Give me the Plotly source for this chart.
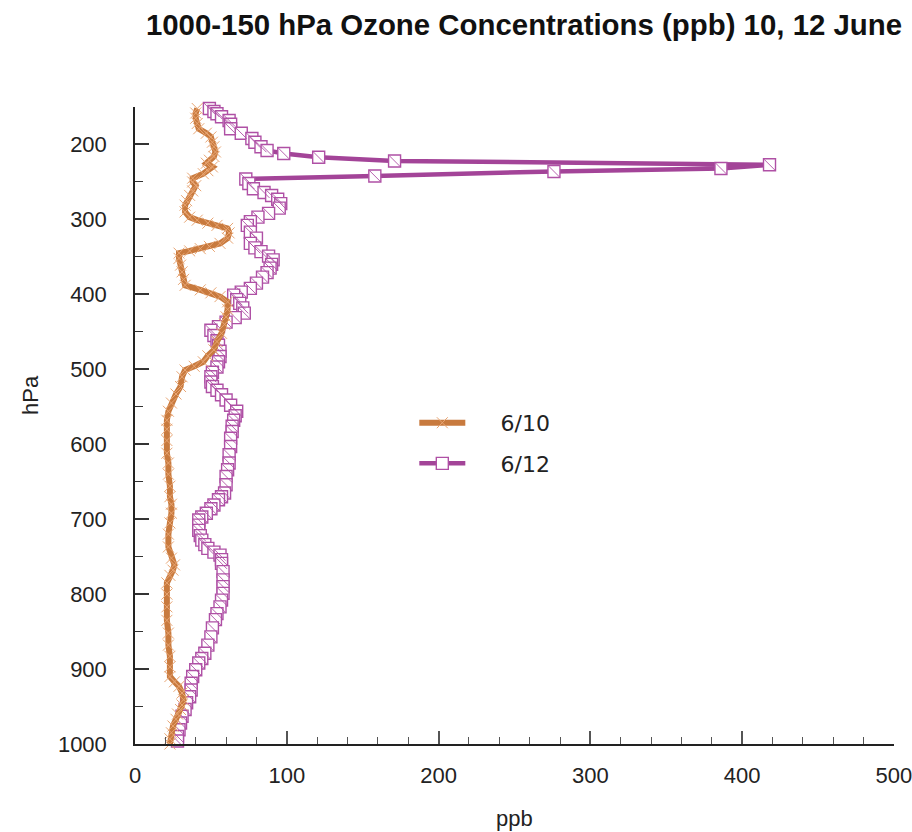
import plotly.graph_objects as go

# ---- data ----
p_0610 = [152, 158, 165, 172, 179, 185, 190, 197, 203, 210, 216, 221, 225, 230, 235, 239,
          245, 250, 255, 262, 268, 275, 281, 290, 297, 301, 305, 308, 312, 318, 325, 332,
          336, 339, 342, 345, 352, 361, 370, 380, 388, 394, 398, 403, 410, 420, 430, 440,
          452, 463, 474, 482, 490, 496, 501, 510, 523, 533, 545, 556, 568, 580, 595, 612,
          625, 640, 656, 670, 680, 692, 705, 720, 737, 752, 761, 768, 775, 785, 800, 817,
          835, 852, 868, 883, 897, 910, 917, 923, 932, 941, 948, 954, 960, 967, 976, 985,
          993, 1000]
o3_0610 = [41, 40, 40, 41, 42, 47, 50, 51, 52, 53, 52, 49, 47, 51, 48, 45,
           38, 38, 40, 38, 36, 34, 33, 33, 36, 41, 48, 54, 61, 62, 61, 56,
           49, 43, 36, 29, 29, 30, 31, 32, 33, 43, 50, 56, 61, 61, 60, 59,
           57, 54, 52, 48, 45, 39, 33, 31, 30, 27, 24, 22, 21, 21, 21, 21,
           22, 22, 23, 23, 24, 24, 23, 22, 22, 24, 26, 25, 23, 21, 21, 21,
           21, 22, 22, 23, 23, 23, 26, 29, 31, 32, 31, 30, 28, 27, 25, 24,
           23, 23]

p_0612 = [152, 156, 159, 163, 168, 173, 179, 185, 192, 197, 203, 208, 212, 217, 222, 227,
          232, 236, 242, 246, 252, 259, 264, 268, 273, 279, 285, 292, 297, 303, 308, 317,
          325, 332, 338, 343, 349, 354, 360, 365, 371, 377, 385, 392, 397, 401, 407, 412,
          418, 425, 431, 437, 443, 448, 455, 462, 468, 476, 483, 490, 497, 504, 510, 517,
          523, 528, 534, 541, 548, 556, 562, 568, 576, 583, 592, 603, 614, 625, 634, 643,
          654, 665, 670, 674, 681, 686, 692, 697, 701, 708, 715, 722, 728, 734, 739, 744,
          748, 754, 759, 770, 781, 790, 799, 808, 817, 826, 834, 845, 857, 868, 879, 886,
          892, 901, 910, 919, 928, 937, 945, 954, 963, 972, 981, 990, 996]
o3_0612 = [49, 52, 54, 57, 62, 63, 63, 70, 77, 79, 83, 87, 98, 121, 171, 418,
           386, 276, 158, 73, 75, 78, 85, 90, 94, 96, 95, 88, 81, 76, 74, 76,
           80, 76, 79, 83, 88, 91, 90, 89, 87, 84, 80, 76, 70, 65, 67, 69,
           71, 72, 66, 60, 55, 50, 52, 54, 55, 56, 56, 55, 54, 51, 50, 50,
           51, 54, 57, 60, 63, 67, 66, 65, 64, 64, 63, 63, 62, 62, 61, 60,
           60, 59, 57, 55, 52, 50, 47, 44, 42, 42, 42, 43, 44, 46, 48, 52,
           56, 57, 57, 58, 58, 58, 58, 57, 56, 54, 53, 51, 50, 48, 46, 44,
           42, 40, 38, 37, 37, 36, 34, 33, 31, 30, 29, 28, 28]

x_ticks = [0, 100, 200, 300, 400, 500]
y_ticks = [200, 300, 400, 500, 600, 700, 800, 900, 1000]

title_text = "1000-150 hPa Ozone Concentrations (ppb) 10, 12 June"
x_title = "ppb"
y_title = "hPa"
names = ["6/10", "6/12"]

ORANGE = "rgb(200,122,62)"
ORANGE_MK = "rgb(232,165,115)"
PURPLE = "rgb(163,68,152)"
PURPLE_MK = "rgb(175,80,165)"
PAD = "\u00a0" * 4 + "\u200a"  # gap between legend sample and label

fig = go.Figure()

# 6/12 (drawn first, so 6/10 sits on top)
fig.add_trace(go.Scatter(
    x=o3_0612, y=p_0612, mode="lines+markers", name=PAD + names[1],
    legendgroup="b", legendrank=2, cliponaxis=False,
    line=dict(color=PURPLE, width=4.5),
    marker=dict(symbol="square", size=12, color="white",
                line=dict(color=PURPLE_MK, width=1.4)),
))
fig.add_trace(go.Scatter(
    x=o3_0612, y=p_0612, mode="markers", showlegend=False,
    legendgroup="b", hoverinfo="skip", cliponaxis=False,
    marker=dict(symbol="line-nw", size=11, color=PURPLE_MK,
                line=dict(color=PURPLE_MK, width=0.9)),
))
# 6/10
fig.add_trace(go.Scatter(
    x=o3_0610, y=p_0610, mode="lines+markers", name=PAD + names[0],
    legendgroup="a", legendrank=1, cliponaxis=False,
    line=dict(color=ORANGE, width=6),
    marker=dict(symbol="x-thin-open", size=11, color=ORANGE_MK,
                line=dict(color=ORANGE_MK, width=1)),
))

axis_font = dict(family="Liberation Sans, Arial, sans-serif", size=22, color="#222")

fig.update_layout(
    width=912, height=832,
    margin=dict(l=135, r=18, t=107, b=88, autoexpand=False),
    paper_bgcolor="white", plot_bgcolor="white",
    showlegend=True,
    title=dict(text="<b>" + title_text + "</b>", xref="container", yref="container",
               x=524 / 912, xanchor="center", y=1 - 25 / 832, yanchor="middle",
               font=dict(family="Liberation Sans, Arial, sans-serif", size=29.4, color="#111")),
    legend=dict(x=0.368, xanchor="left", y=0.537, yanchor="top",
                bgcolor="rgba(0,0,0,0)", borderwidth=0,
                font=dict(family="DejaVu Sans, sans-serif", size=22, color="#222"),
                itemwidth=46, tracegroupgap=9, traceorder="grouped"),
    xaxis=dict(range=[0, 500.01], tickvals=x_ticks, showgrid=False, zeroline=False,
               showline=True, linecolor="#222", linewidth=1.5, automargin=False,
               ticks="inside", ticklen=13, tickwidth=1.5, tickcolor="#555",
               minor=dict(dtick=20, tick0=0, ticks="inside", ticklen=7,
                          tickwidth=1.3, tickcolor="#555", showgrid=False),
               tickfont=axis_font, ticklabelstandoff=11, ticklabeloverflow="allow",
               fixedrange=True),
    yaxis=dict(range=[1000, 150], tickvals=y_ticks, showgrid=False, zeroline=False,
               showline=True, linecolor="#222", linewidth=1.5, automargin=False,
               ticks="inside", ticklen=14, tickwidth=1.5, tickcolor="#333",
               minor=dict(dtick=50, tick0=0, ticks="inside", ticklen=8,
                          tickwidth=1.3, tickcolor="#333", showgrid=False),
               tickfont=axis_font, ticklabelstandoff=22, fixedrange=True),
    annotations=[
        dict(text=x_title, xref="paper", yref="paper", x=(514 - 135) / 759, y=-(818 - 744) / 637,
             xanchor="center", yanchor="middle", showarrow=False, font=axis_font),
        dict(text=y_title, xref="paper", yref="paper", x=-(135 - 30) / 759, y=(744 - 395) / 637,
             xanchor="center", yanchor="middle", showarrow=False, textangle=-90, font=axis_font),
    ],
)

fig.write_html("out.html")
